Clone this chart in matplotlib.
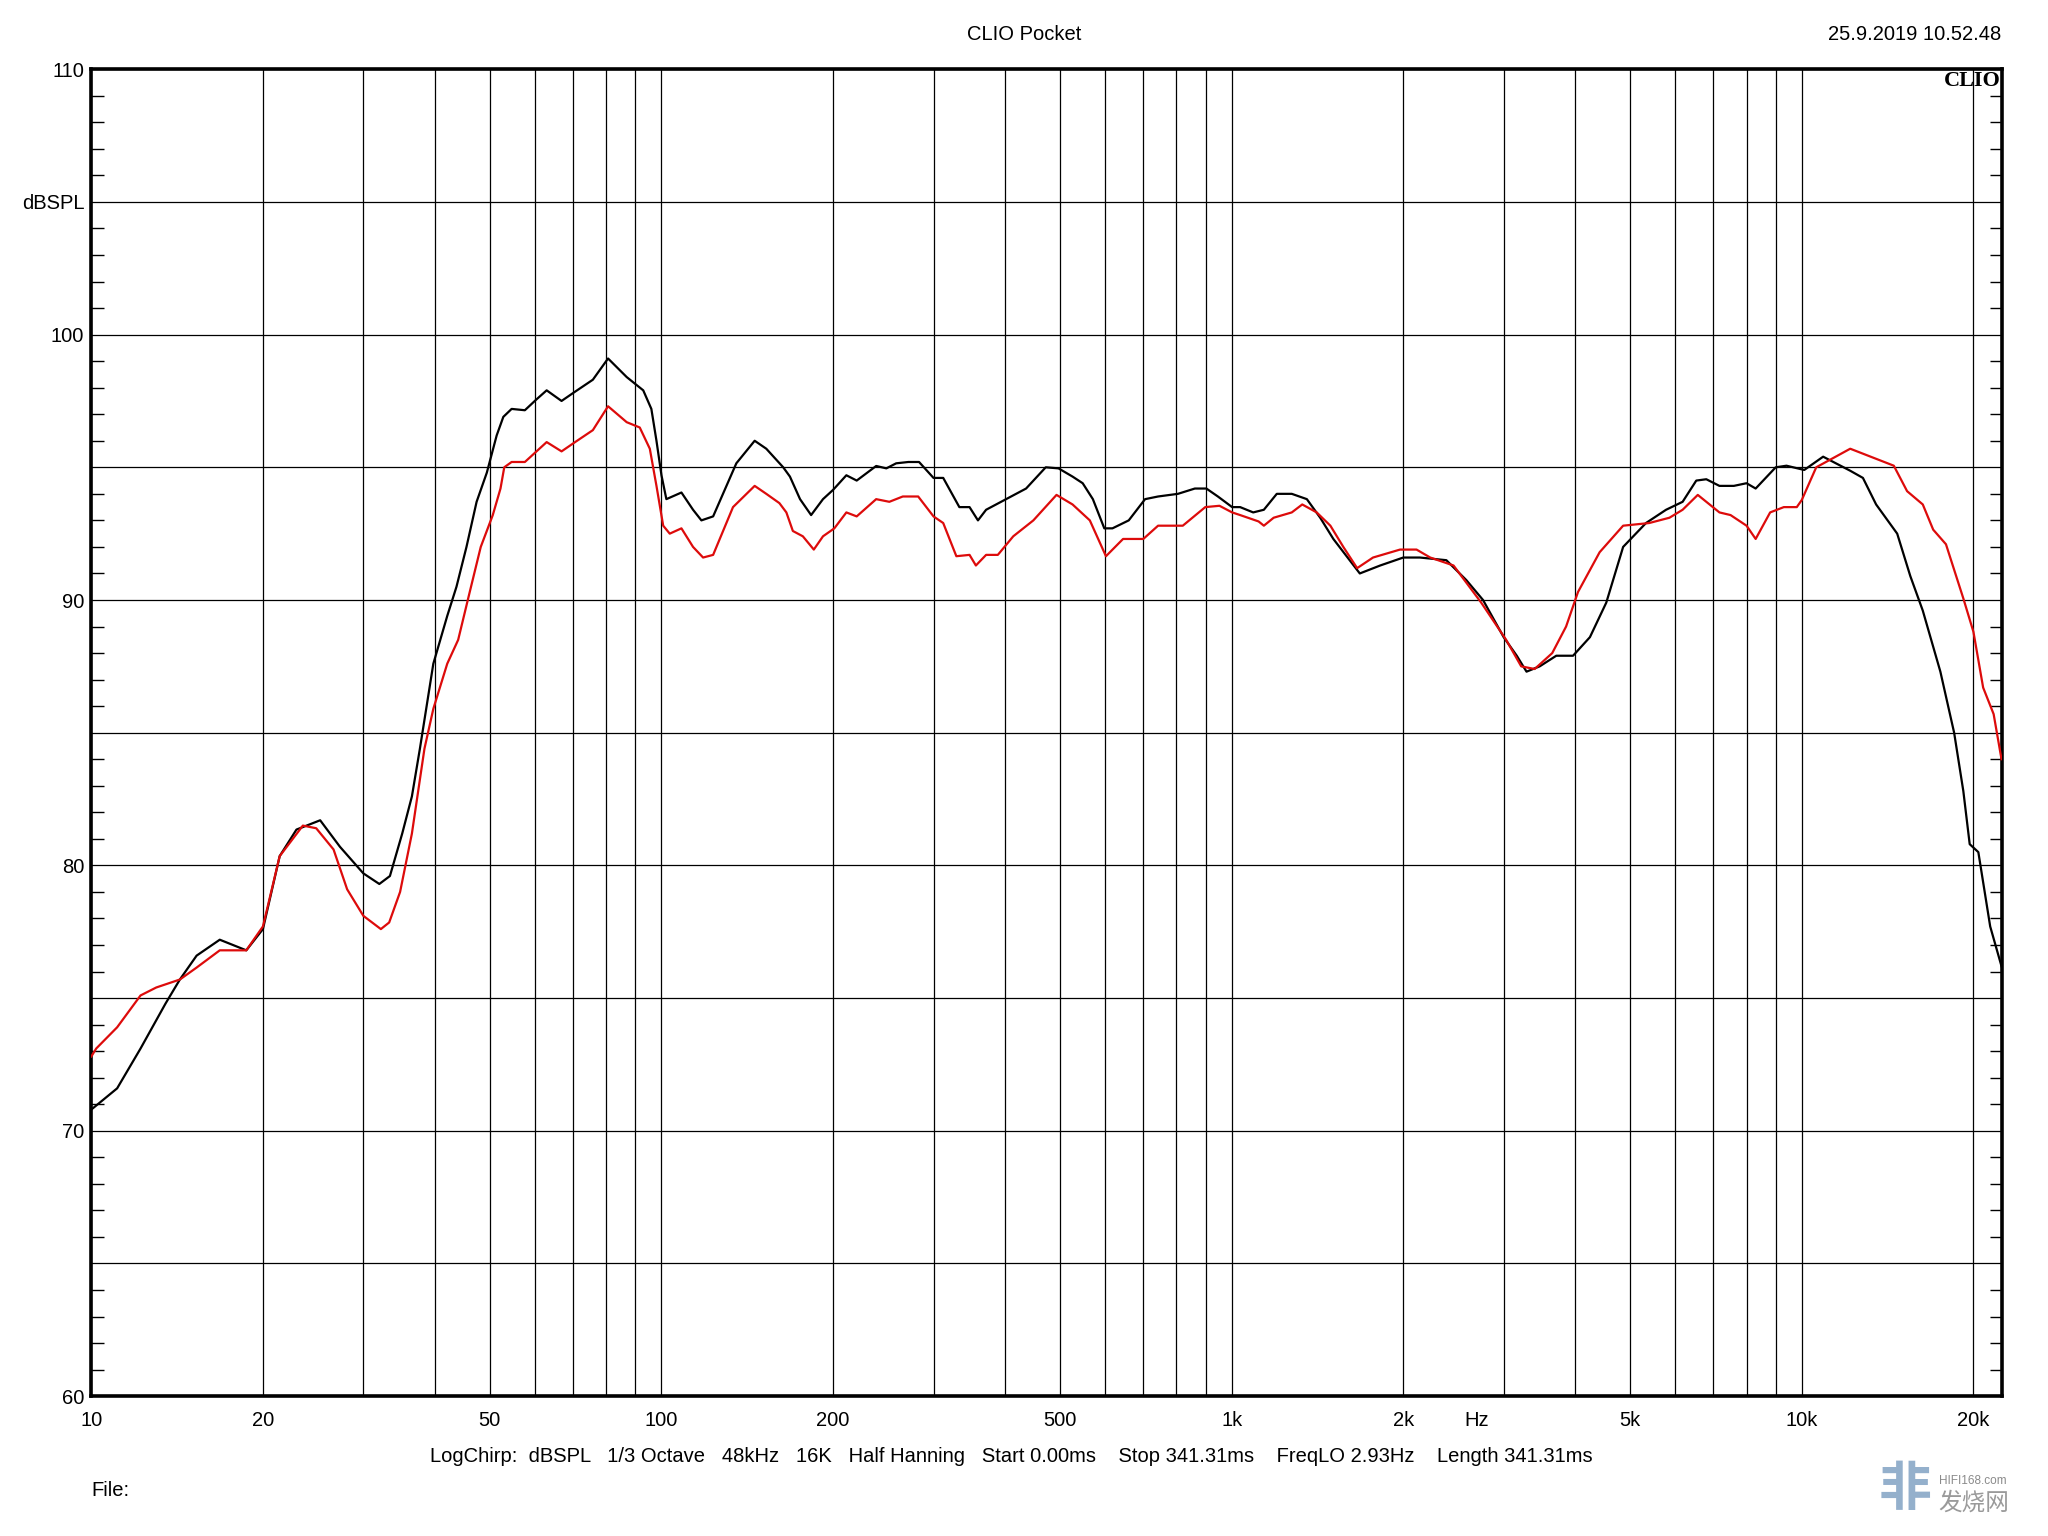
import matplotlib
matplotlib.use("Agg")
import matplotlib.pyplot as plt
from matplotlib.ticker import FixedLocator, NullFormatter, FixedFormatter

# ---------------- data ----------------
black_freq = [10.0, 11.1, 12.2, 13.5, 14.3, 15.3, 16.8, 18.7, 20.0, 21.4, 22.9, 25.2, 27.3, 30.0,
              32.0, 33.4, 35.1, 36.5, 37.7, 39.8, 42.1, 43.7, 45.5, 47.4, 49.4, 51.4, 52.8, 54.6,
              57.6, 60.3, 62.9, 66.8, 70.0, 75.8, 80.6, 86.9, 92.9, 96.0, 98.0, 100, 102, 108.4,
              113.6, 117.5, 123.2, 130, 135.3, 145.7, 152.7, 163.5, 168, 175, 183, 192, 200, 211,
              220, 238, 248, 258, 271, 283, 300, 312, 333, 347, 359, 371, 402, 436, 472, 497, 526,
              548, 571, 598, 618, 660, 705, 743, 805, 862, 903, 946, 1002, 1035, 1091, 1139, 1200,
              1275, 1355, 1430, 1508, 1611, 1678, 1822, 2000, 2139, 2380, 2580, 2760, 3000, 3163,
              3290, 3470, 3710, 3970, 4250, 4540, 4860, 5330, 5780, 6180, 6530, 6800, 7170, 7600,
              8000, 8300, 9000, 9400, 10100, 10900, 12160, 12800, 13500, 14700, 15500, 16300,
              17500, 18500, 19200, 19700, 20400, 21400, 22400]
black_db = [70.8, 71.6, 73.1, 74.8, 75.7, 76.6, 77.2, 76.8, 77.6, 80.35, 81.35, 81.7, 80.7, 79.7,
            79.3, 79.6, 81.2, 82.6, 84.4, 87.6, 89.4, 90.5, 92.0, 93.7, 94.8, 96.2, 96.9, 97.2,
            97.15, 97.55, 97.9, 97.5, 97.8, 98.3, 99.1, 98.4, 97.9, 97.2, 96.0, 94.7, 93.8, 94.05,
            93.4, 93.0, 93.15, 94.3, 95.15, 96.0, 95.7, 95.0, 94.65, 93.8, 93.2, 93.8, 94.15, 94.7,
            94.5, 95.05, 94.96, 95.15, 95.2, 95.2, 94.6, 94.6, 93.5, 93.5, 93.0, 93.4, 93.8, 94.2,
            95.0, 94.96, 94.65, 94.4, 93.8, 92.7, 92.7, 93.0, 93.8, 93.9, 94.0, 94.2, 94.2, 93.9,
            93.5, 93.5, 93.3, 93.4, 94.0, 94.0, 93.8, 93.1, 92.3, 91.5, 91.0, 91.3, 91.6, 91.6,
            91.5, 90.75, 90.0, 88.6, 87.9, 87.3, 87.5, 87.9, 87.9, 88.6, 89.9, 92.0, 92.9, 93.4,
            93.7, 94.5, 94.55, 94.3, 94.3, 94.4, 94.2, 95.0, 95.06, 94.9, 95.4, 94.87, 94.6, 93.6,
            92.5, 90.9, 89.6, 87.3, 85.0, 82.8, 80.8, 80.5, 77.7, 76.2]

red_freq = [10.0, 10.2, 11.1, 12.2, 13.0, 14.3, 15.3, 16.8, 18.7, 20.0, 21.4, 23.5, 24.8, 26.6,
            28.1, 30.0, 32.2, 33.3, 34.8, 36.5, 38.4, 39.8, 42.1, 44.0, 46.1, 48.2, 50.6, 52.2,
            53.0, 54.6, 57.6, 62.9, 66.8, 70.0, 75.8, 80.6, 86.9, 91.6, 95.4, 98.0, 100.7, 103.4,
            108.4, 113.6, 118.3, 123.2, 133.5, 145.7, 152.7, 161, 165.6, 170, 177, 185, 192, 201,
            211, 220, 238, 251, 265, 282, 300, 312, 329, 347, 356, 371, 389, 414, 449, 493, 526,
            564, 602, 645, 700, 743, 821, 899, 952, 1002, 1035, 1115, 1139, 1185, 1275, 1330,
            1410, 1490, 1570, 1660, 1770, 1974, 2110, 2230, 2450, 2740, 3030, 3220, 3400, 3650,
            3860, 4050, 4420, 4860, 5400, 5860, 6180, 6570, 7170, 7500, 8000, 8300, 8800, 9300,
            9800, 10000, 10600, 12160, 14500, 15300, 16300, 17000, 17900, 19200, 20000, 20800,
            21700, 22400]
red_db = [72.8, 73.1, 73.9, 75.1, 75.4, 75.7, 76.15, 76.8, 76.8, 77.7, 80.35, 81.5, 81.4, 80.6,
          79.1, 78.1, 77.6, 77.85, 79.0, 81.2, 84.4, 85.9, 87.6, 88.5, 90.3, 92.0, 93.2, 94.2,
          95.0, 95.2, 95.2, 95.95, 95.6, 95.9, 96.4, 97.3, 96.7, 96.5, 95.7, 94.3, 92.8, 92.5,
          92.7, 92.0, 91.6, 91.7, 93.5, 94.3, 94.0, 93.65, 93.3, 92.6, 92.4, 91.9, 92.4, 92.7,
          93.3, 93.15, 93.8, 93.7, 93.9, 93.9, 93.15, 92.9, 91.65, 91.7, 91.3, 91.7, 91.7, 92.4,
          93.0, 93.96, 93.6, 93.0, 91.65, 92.3, 92.3, 92.8, 92.8, 93.5, 93.55, 93.3, 93.2, 92.96,
          92.8, 93.1, 93.3, 93.6, 93.3, 92.8, 92.0, 91.2, 91.6, 91.9, 91.9, 91.6, 91.3, 89.9,
          88.5, 87.5, 87.4, 88.0, 89.0, 90.3, 91.8, 92.8, 92.9, 93.1, 93.4, 93.96, 93.3, 93.2,
          92.8, 92.3, 93.3, 93.5, 93.5, 93.77, 95.0, 95.7, 95.06, 94.1, 93.6, 92.65, 92.1, 90.06,
          88.8, 86.7, 85.7, 84.0]

x_tick_vals = [10, 20, 50, 100, 200, 500, 1000, 2000, 5000, 10000, 20000]
x_tick_labels = ["10", "20", "50", "100", "200", "500", "1k", "2k", "5k", "10k", "20k"]
x_grid_vals = [m * d for d in (10, 100, 1000) for m in range(2, 10)] + [10000, 20000]
y_major_vals = [60, 65, 70, 75, 80, 85, 90, 95, 100, 105, 110]
y_major_labels = ["60", "", "70", "", "80", "", "90", "", "100", "dBSPL", "110"]
y_minor_vals = [v for v in range(60, 111) if v % 5 != 0]

title_text = "CLIO Pocket"
date_text = "25.9.2019 10.52.48"
settings_text = ("LogChirp:  dBSPL   1/3 Octave   48kHz   16K   Half Hanning   Start 0.00ms    "
                 "Stop 341.31ms    FreqLO 2.93Hz    Length 341.31ms")

# ---------------- figure ----------------
plt.rcParams['font.family'] = ['Liberation Sans', 'DejaVu Sans']
FS = 14.5
W, H = 2048, 1536
fig = plt.figure(figsize=(W / 100, H / 100), dpi=100)
L, R, T, B = 91.3, 2001.5, 69.2, 1396.2
ax = fig.add_axes([L / W, 1 - B / H, (R - L) / W, (B - T) / H])

ax.set_xscale('log')
ax.set_xlim(10, 22400)
ax.set_ylim(60, 110)

ax.plot(black_freq, black_db, color='black', lw=1.6, zorder=3)
ax.plot(red_freq, red_db, color='#dd0b0b', lw=1.6, zorder=4)

# x axis
ax.xaxis.set_major_locator(FixedLocator(x_tick_vals))
ax.xaxis.set_major_formatter(FixedFormatter(x_tick_labels))
ax.xaxis.set_minor_locator(FixedLocator([v for v in x_grid_vals if v not in x_tick_vals]))
ax.xaxis.set_minor_formatter(NullFormatter())
ax.tick_params(axis='x', which='both', length=0, labelsize=FS, pad=11)

# y axis
ax.yaxis.set_major_locator(FixedLocator(y_major_vals))
ax.yaxis.set_major_formatter(FixedFormatter(y_major_labels))
ax.yaxis.set_minor_locator(FixedLocator(y_minor_vals))
ax.tick_params(axis='y', which='major', length=0, labelsize=FS, pad=5)
ax.tick_params(axis='y', which='minor', direction='in', length=9, width=1.0,
               left=True, right=True)

ax.xaxis.grid(True, which='both', color='black', lw=0.9)
ax.yaxis.grid(True, which='major', color='black', lw=0.9)
ax.set_axisbelow(True)
for s in ax.spines.values():
    s.set_linewidth(2.6)

# texts
fig.text(1024 / W, 1 - 34 / H, title_text, ha='center', va='center', fontsize=FS)
fig.text(2001 / W, 1 - 34 / H, date_text, ha='right', va='center', fontsize=FS)
ax.text(0.9995, 0.9985, "CLIO", transform=ax.transAxes, ha='right', va='top',
        fontsize=16, fontweight='bold', family='Liberation Serif', zorder=5)
fig.text(1477 / W, 1 - 1420 / H, "Hz", ha='center', va='center', fontsize=FS)
fig.text(1011 / W, 1 - 1456 / H, settings_text, ha='center', va='center', fontsize=FS)
fig.text(91 / W, 1 - 1490 / H, "File:", ha='left', va='center', fontsize=FS)

# watermark
fig.text(1905 / W, 1 - 1490 / H, "非", ha='center', va='center', fontsize=38,
         color='#7a9cc0', family=['Noto Sans CJK SC'], fontweight='bold', alpha=0.8)
fig.text(1939 / W, 1 - 1481 / H, "HIFI168.com", ha='left', va='center', fontsize=8.5,
         color='#8a8a8a')
fig.text(1938 / W, 1 - 1503 / H, "发烧网", ha='left', va='center', fontsize=17,
         color='#9a9a9a', family=['Noto Sans CJK SC'])

fig.savefig("out.png", dpi=100, facecolor='white')
